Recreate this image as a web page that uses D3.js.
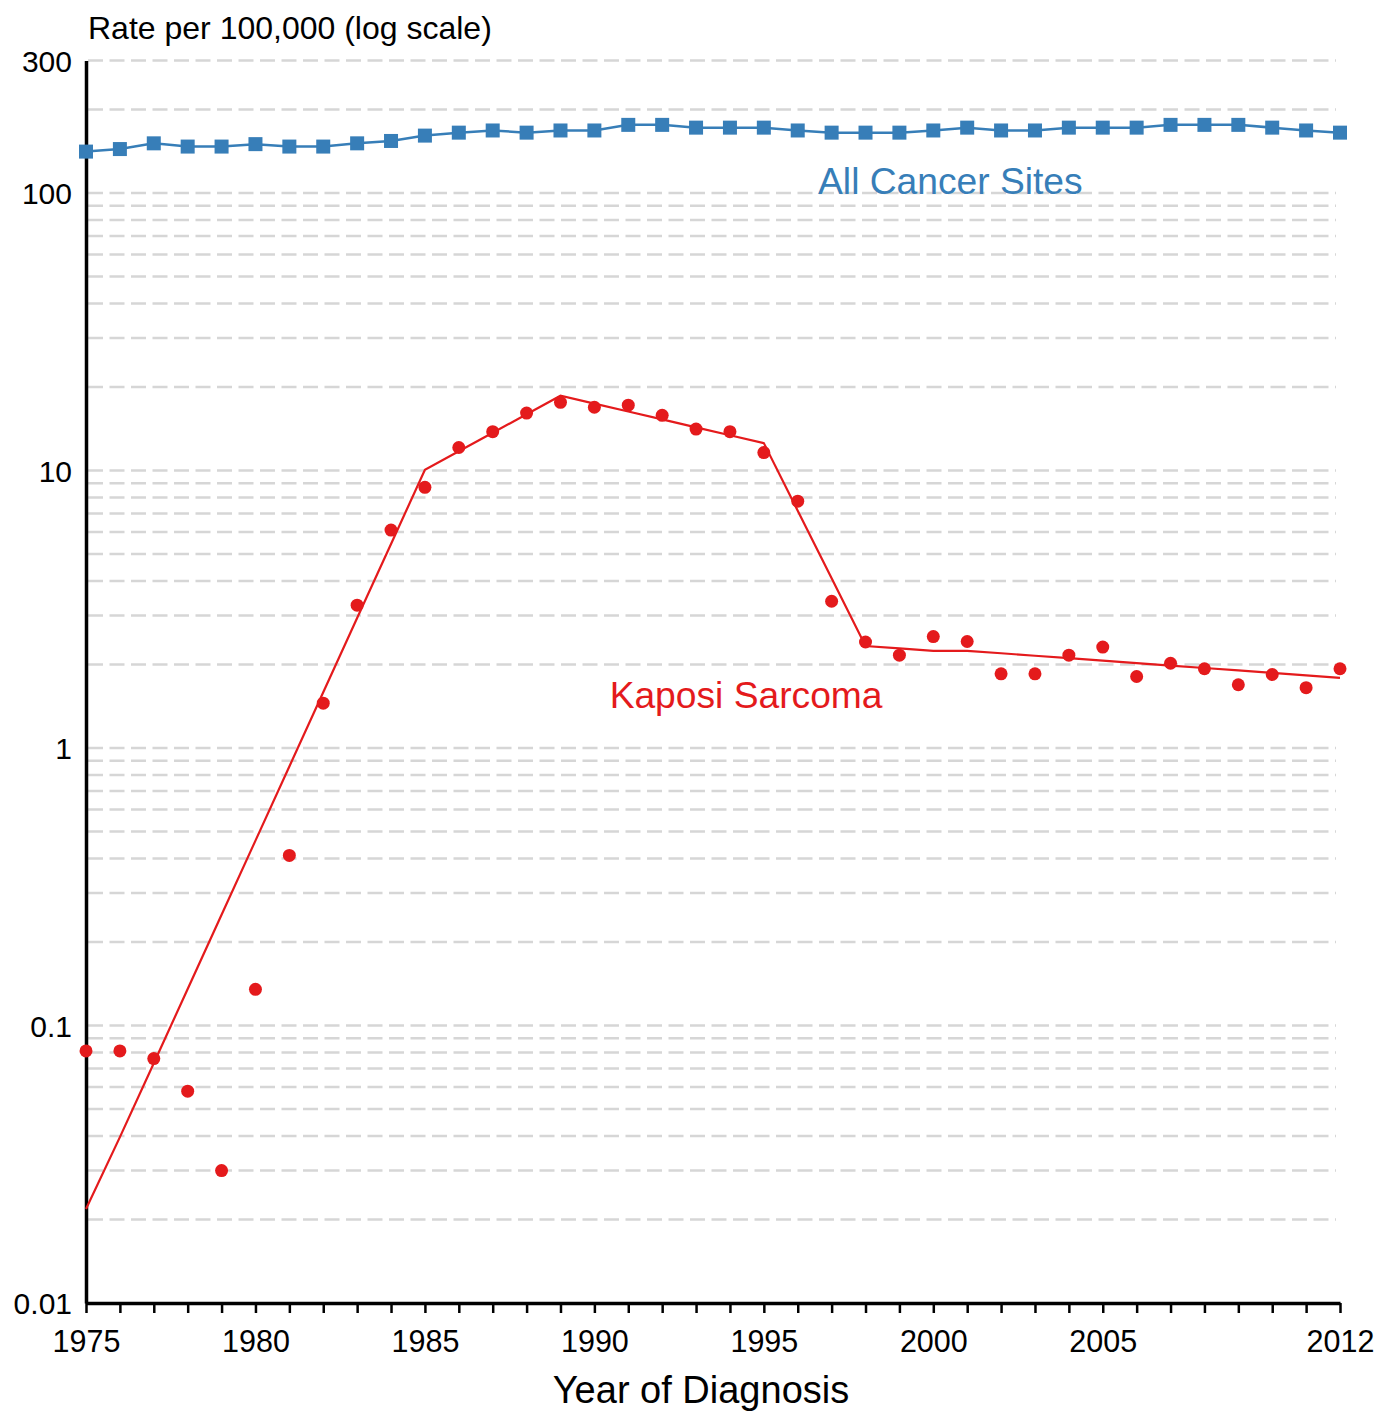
<!DOCTYPE html>
<html>
<head>
<meta charset="utf-8">
<script src="https://cdn.jsdelivr.net/npm/d3@7"></script>
<style>
  html, body { margin: 0; padding: 0; background: #fff; }
  svg { display: block; }
  text { font-family: "Liberation Sans", Arial, Helvetica, sans-serif; }
</style>
</head>
<body>
<div id="chart"></div>
<script>
// ---- data ----
const years = d3.range(1975, 2013);
const allSites = [141, 144, 151, 147, 147, 150, 147, 147, 151, 154,
                  161, 165, 168, 165, 168, 168, 176, 176, 172, 172,
                  172, 168, 165, 165, 165, 168, 172, 168, 168, 172,
                  172, 172, 176, 176, 176, 172, 168, 165];
const kaposiObs = [0.081, 0.081, 0.076, 0.058, 0.030, 0.135, 0.41, 1.45, 3.27, 6.1,
                   8.7, 12.1, 13.8, 16.1, 17.6, 16.9, 17.2, 15.8, 14.1, 13.8,
                   11.6, 7.75, 3.38, 2.41, 2.16, 2.52, 2.42, 1.85, 1.85, 2.16,
                   2.31, 1.81, 2.02, 1.93, 1.69, 1.84, 1.65, 1.93];
const kaposiTrend = [0.0218, 0.0396, 0.0731, 0.1354, 0.2505, 0.4637, 0.858, 1.588, 2.939, 5.437,
                     10.06, 11.73, 13.68, 15.95, 18.6, 17.42, 16.32, 15.28, 14.31, 13.40,
                     12.55, 7.16, 4.09, 2.33, 2.285, 2.24, 2.24, 2.195, 2.150, 2.107,
                     2.064, 2.023, 1.982, 1.942, 1.903, 1.865, 1.827, 1.79];
const yTickValues = [300, 100, 10, 1, 0.1, 0.01];
const yTickLabels = ["300", "100", "10", "1", "0.1", "0.01"];
const xLabelYears = [1975, 1980, 1985, 1990, 1995, 2000, 2005, 2012];
const gridValues = [];
[-2, -1, 0, 1, 2].forEach(k => d3.range(1, 10).forEach(m => {
  const v = m * Math.pow(10, k);
  if (v > 0.0100001 && v <= 300.0001) gridValues.push(v);
}));

// ---- layout ----
const W = 1381, H = 1412;
const blue = "#377eb8", red = "#e41a1c";
const svg = d3.select("#chart").append("svg").attr("width", W).attr("height", H);

const x = d3.scaleLinear().domain([1975, 2012]).range([86, 1340]);
const y = d3.scaleLog().domain([0.01, 300]).range([1303, 60.6]);

// gridlines
svg.append("g").selectAll("line").data(gridValues).join("line")
  .attr("x1", x(1975) + 2).attr("x2", 1336)
  .attr("y1", d => y(d)).attr("y2", d => y(d))
  .attr("stroke", "#d6d6d6").attr("stroke-width", 2.5)
  .attr("stroke-dasharray", "15,6.5");

// y axis
const yAxis = d3.axisLeft(y).tickValues(yTickValues).tickSize(0)
  .tickFormat(d => yTickLabels[yTickValues.indexOf(d)]);
const gy = svg.append("g").attr("transform", `translate(${x(1975)},0)`).call(yAxis);
gy.select(".domain").attr("stroke", "#000").attr("stroke-width", 3.5);
gy.selectAll("text").attr("font-size", 30).attr("fill", "#000")
  .attr("x", -14).attr("dy", "0.36em")
  .style("font-family", "'Liberation Sans', Arial, sans-serif");

// x axis
const xAxis = d3.axisBottom(x).tickValues(years).tickSize(10).tickSizeOuter(0)
  .tickFormat(d => xLabelYears.includes(d) ? String(d) : "");
const gx = svg.append("g").attr("transform", `translate(0,${y(0.01)})`).call(xAxis);
gx.select(".domain").attr("stroke", "#000").attr("stroke-width", 3.5);
gx.selectAll(".tick line").attr("stroke", "#000").attr("stroke-width", 2.5);
gx.selectAll("text").attr("font-size", 30.5).attr("fill", "#000").attr("y", 27)
  .style("font-family", "'Liberation Sans', Arial, sans-serif");

// axis titles
svg.append("text").attr("x", 88).attr("y", 39).attr("font-size", 32).attr("fill", "#000")
  .text("Rate per 100,000 (log scale)");
svg.append("text").attr("x", 701).attr("y", 1403)
  .attr("text-anchor", "middle").attr("font-size", 38).attr("fill", "#000")
  .text("Year of Diagnosis");

// All cancer sites
const allData = years.map((yr, i) => ({ yr, v: allSites[i] }));
svg.append("path").datum(allData)
  .attr("fill", "none").attr("stroke", blue).attr("stroke-width", 2.5)
  .attr("d", d3.line().x(d => x(d.yr)).y(d => y(d.v)));
svg.append("g").selectAll("rect").data(allData).join("rect")
  .attr("x", d => x(d.yr) - 7).attr("y", d => y(d.v) - 7)
  .attr("width", 14).attr("height", 14).attr("fill", blue);

// Kaposi
const trendData = years.map((yr, i) => ({ yr, v: kaposiTrend[i] }));
svg.append("path").datum(trendData)
  .attr("fill", "none").attr("stroke", red).attr("stroke-width", 2.2)
  .attr("d", d3.line().x(d => x(d.yr)).y(d => y(d.v)));
const obsData = years.map((yr, i) => ({ yr, v: kaposiObs[i] }));
svg.append("g").selectAll("circle").data(obsData).join("circle")
  .attr("cx", d => x(d.yr)).attr("cy", d => y(d.v)).attr("r", 6.5).attr("fill", red);

// series labels
svg.append("text").attr("x", x(1996.6)).attr("y", y(100) + 1).attr("font-size", 37.2)
  .attr("fill", blue).text("All Cancer Sites");
svg.append("text").attr("x", x(1990.45)).attr("y", y(1.39)).attr("font-size", 37.2)
  .attr("fill", red).text("Kaposi Sarcoma");
</script>
</body>
</html>
